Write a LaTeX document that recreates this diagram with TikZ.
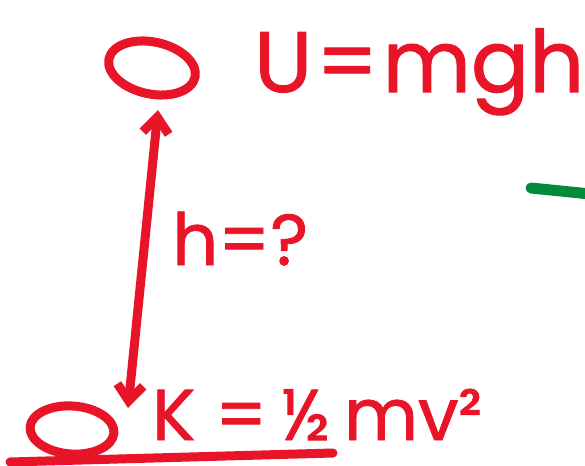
\documentclass[tikz,border=0pt]{standalone}
\usepackage{fontspec}
\setmainfont{Poppins}[FakeBold=1.2]
\usetikzlibrary{arrows.meta}
\definecolor{inkred}{RGB}{232,20,40}
\definecolor{inkgreen}{RGB}{0,138,58}
\tikzset{
  ink/.style={draw=inkred, line width=9pt, line cap=round, line join=round},
  hand/.style={text=inkred, inner sep=0pt, anchor=base west, font=\fontsize{86}{88}\selectfont},
  handsmall/.style={text=inkred, inner sep=0pt, anchor=base west, font=\fontsize{72}{74}\selectfont},
}
\begin{document}
\begin{tikzpicture}[x=1pt,y=-1pt]
\useasboundingbox (0,0) rectangle (585,465);
\clip (0,0) rectangle (585,465);
% top ball
\draw[ink, rotate around={-12:(152,68)}] (152,68) ellipse [x radius=44, y radius=26];
\coordinate (top) at (158,110);
% bottom ball
\draw[ink, rotate around={-4:(72,430)}] (72,430) ellipse [x radius=42, y radius=24];
\coordinate (bot) at (128,408);
% height arrow
\draw[ink, {Straight Barb[length=16pt,width=26pt,line width=9pt]}-{Straight Barb[length=16pt,width=26pt,line width=9pt]}] (top) -- (bot);
% ground
\coordinate (g1) at (10,462);
\coordinate (g2) at (333,453);
\draw[ink] (g1) -- (g2);
% green stroke
\coordinate (gr1) at (531,188);
\coordinate (gr2) at (600,195);
\draw[draw=inkgreen, line width=11pt, line cap=round] (gr1) -- (gr2);
% labels
\node[hand] (U) at (254,92) {U\kern4pt=\kern4pt mgh};
\node[handsmall] (H) at (172,265) {h=?};
\node[handsmall] (K) at (152,440) {K\kern20pt=\kern14pt½\kern14pt mv²};
\end{tikzpicture}
\end{document}
